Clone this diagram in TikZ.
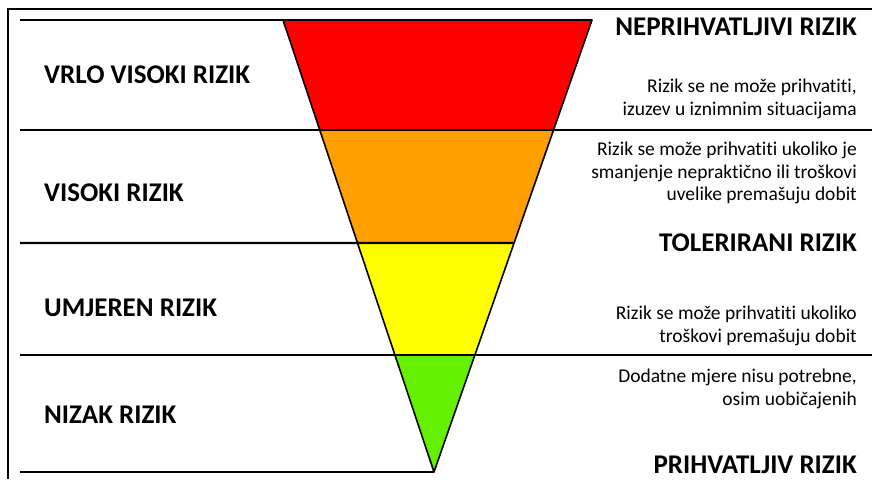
\documentclass[tikz,border=0pt]{standalone}
\usepackage{fontspec}
\setmainfont{Carlito}[Ligatures=NoCommon]
\usetikzlibrary{calc}

\definecolor{riskred}{RGB}{255,0,0}
\definecolor{riskorange}{RGB}{255,160,0}
\definecolor{riskyellow}{RGB}{255,255,0}
\definecolor{riskgreen}{RGB}{100,240,0}

\begin{document}
\begin{tikzpicture}[x=1pt, y=-1pt,
    band/.style={draw=black, line width=1.6pt, line join=round},
    rule/.style={line width=2.2pt},
    level/.style={anchor=west, inner sep=0pt, font=\bfseries\fontsize{27}{30}\selectfont},
    verdict/.style={anchor=east, inner sep=0pt, font=\bfseries\fontsize{27}{30}\selectfont},
    note/.style={anchor=east, align=right, inner sep=0pt, font=\fontsize{19.5}{22.5}\selectfont}
]
\useasboundingbox (0,0) rectangle (872,479);

% Frame (cut off at right and bottom)
\draw[line width=1.2pt] (872,9) -- (8,9) -- (8,479);

% Funnel corners
\coordinate (TL) at (283,20);
\coordinate (TR) at (592,20);
\coordinate (Apex) at (434,472);

\coordinate (L1) at ($(TL)!0.2434!(Apex)$);
\coordinate (R1) at ($(TR)!0.2434!(Apex)$);
\coordinate (L2) at ($(TL)!0.4934!(Apex)$);
\coordinate (R2) at ($(TR)!0.4934!(Apex)$);
\coordinate (L3) at ($(TL)!0.7412!(Apex)$);
\coordinate (R3) at ($(TR)!0.7412!(Apex)$);

% Bands
\fill[riskred] (TL) -- (TR) -- (R1) -- (L1) -- cycle;
\fill[riskorange] (L1) -- (R1) -- (R2) -- (L2) -- cycle;
\fill[riskyellow] (L2) -- (R2) -- (R3) -- (L3) -- cycle;
\fill[riskgreen] (L3) -- (R3) -- (Apex) -- cycle;
\draw[band] (TL) -- (TR) -- (Apex) -- cycle;

% Horizontal rules
\draw[rule] (20,20) -- (TR);
\draw[rule] (20,130) -- (872,130);
\draw[rule] (20,243) -- (R2);
\draw[rule] (20,355) -- (872,355);
\draw[rule] (20,472) -- (Apex);

% Risk levels
\node[level] (VVR) at (44,75) {VRLO VISOKI RIZIK};
\node[level] (VR) at (44,193) {VISOKI RIZIK};
\node[level] (UR) at (44,308) {UMJEREN RIZIK};
\node[level] (NR) at (44,415) {NIZAK RIZIK};

% Acceptance
\node[verdict] (NPR) at (857,27) {NEPRIHVATLJIVI RIZIK};
\node[verdict] (TOL) at (857,243) {TOLERIRANI RIZIK};
\node[verdict] (PR) at (857,465) {PRIHVATLJIV RIZIK};

\node[note] (N1) at (857,99) {Rizik se ne može prihvatiti,\\izuzev u iznimnim situacijama};
\node[note] (N2) at (857,173) {Rizik se može prihvatiti ukoliko je\\smanjenje nepraktično ili troškovi\\uvelike premašuju dobit};
\node[note] (N3) at (857,326) {Rizik se može prihvatiti ukoliko\\troškovi premašuju dobit};
\node[note] (N4) at (857,389) {Dodatne mjere nisu potrebne,\\osim uobičajenih};

\end{tikzpicture}
\end{document}
